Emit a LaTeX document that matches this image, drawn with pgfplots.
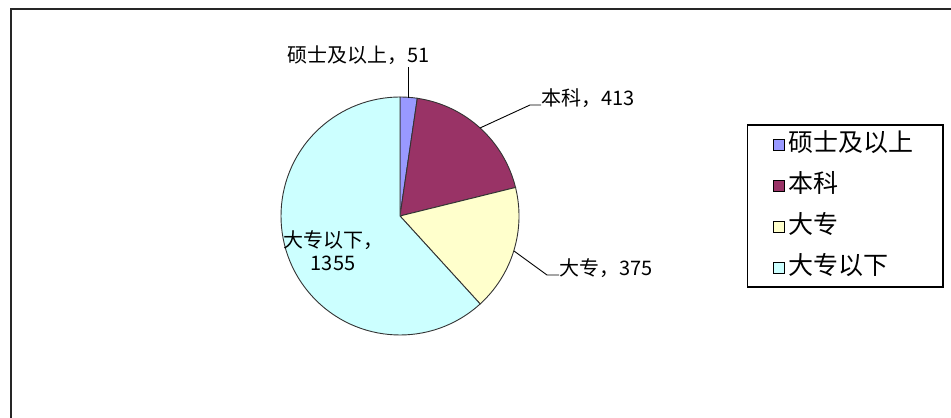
\documentclass[border=0pt]{standalone}
\usepackage{pgfplots}
\usepackage{pgfplotstable}
\pgfplotsset{compat=1.18}
\usepackage{fontspec}
\newfontfamily\cjk{Noto Sans CJK SC}
\definecolor{cMaster}{HTML}{9999FF}
\definecolor{cBachelor}{HTML}{993366}
\definecolor{cCollege}{HTML}{FFFFCC}
\definecolor{cBelow}{HTML}{CCFFFF}

\pgfplotstableread{
value
51
413
375
1355
}\pietable

\begin{document}
\begin{tikzpicture}
\pgfplotstablegetelem{0}{value}\of\pietable \pgfmathsetmacro\va{\pgfplotsretval}
\pgfplotstablegetelem{1}{value}\of\pietable \pgfmathsetmacro\vb{\pgfplotsretval}
\pgfplotstablegetelem{2}{value}\of\pietable \pgfmathsetmacro\vc{\pgfplotsretval}
\pgfplotstablegetelem{3}{value}\of\pietable \pgfmathsetmacro\vd{\pgfplotsretval}
\pgfmathsetmacro\tot{\va+\vb+\vc+\vd}
\pgfmathsetmacro\aA{90}
\pgfmathsetmacro\aB{\aA-(\va/\tot)*360}
\pgfmathsetmacro\aC{\aB-(\vb/\tot)*360}
\pgfmathsetmacro\aD{\aC-(\vc/\tot)*360}
\pgfmathsetmacro\aE{\aD-(\vd/\tot)*360}
\begin{axis}[
  scale only axis, width=951bp, height=418bp,
  xmin=0, xmax=951, ymin=0, ymax=418,
  hide axis, clip=false,
  legend image code/.code={\draw[#1, line width=0.9bp] (0bp,-5.5bp) rectangle (11bp,5.5bp);},
  legend cell align=left,
  legend style={at={(axis cs:773,212)}, anchor=west,
    draw=none, fill=none, inner sep=0pt,
    font=\cjk\fontsize{25bp}{29bp}\selectfont,
    row sep=14bp, column sep=3bp,
    nodes={inner sep=0pt, text height=21bp, text depth=6bp}},
]
\addlegendimage{fill=cMaster, draw=black}
\addlegendentry{硕士及以上}
\addlegendimage{fill=cBachelor, draw=black}
\addlegendentry{本科}
\addlegendimage{fill=cCollege, draw=black}
\addlegendentry{大专}
\addlegendimage{fill=cBelow, draw=black}
\addlegendentry{大专以下}

% chart area border
\draw[black!85, line width=2bp] (axis cs:10.5,0) -- (axis cs:10.5,408.5) -- (axis cs:951,408.5);
% legend frame
\draw[black, line width=1.2bp] (axis cs:747.5,131) rectangle (axis cs:943,293);

% pie slices
\filldraw[fill=cMaster, draw=black!80, line width=0.9bp] (axis cs:400,202) -- ++(\aA:119bp) arc[start angle=\aA, end angle=\aB, radius=119bp] -- cycle;
\filldraw[fill=cBachelor, draw=black!80, line width=0.9bp] (axis cs:400,202) -- ++(\aB:119bp) arc[start angle=\aB, end angle=\aC, radius=119bp] -- cycle;
\filldraw[fill=cCollege, draw=black!80, line width=0.9bp] (axis cs:400,202) -- ++(\aC:119bp) arc[start angle=\aC, end angle=\aD, radius=119bp] -- cycle;
\filldraw[fill=cBelow, draw=black!80, line width=0.9bp] (axis cs:400,202) -- ++(\aD:119bp) arc[start angle=\aD, end angle=\aE, radius=119bp] -- cycle;

% leader lines
\draw[black, line width=0.9bp] (axis cs:408.5,320) -- (axis cs:408.5,351);
\draw[black, line width=0.9bp] (axis cs:480,290) -- (axis cs:530,313) -- (axis cs:541,313);
\draw[black, line width=0.9bp] (axis cs:514,167) -- (axis cs:547,143) -- (axis cs:559,143);

% data labels
\node[anchor=west, inner sep=0pt, font=\cjk\fontsize{20bp}{23bp}\selectfont] at (axis cs:287,363) {硕士及以上，51};
\node[anchor=west, inner sep=0pt, font=\cjk\fontsize{20bp}{23bp}\selectfont] at (axis cs:541,320) {本科，413};
\node[anchor=west, inner sep=0pt, font=\cjk\fontsize{20bp}{23bp}\selectfont] at (axis cs:559,150) {大专，375};
\node[align=center, inner sep=0pt, font=\cjk\fontsize{20bp}{23bp}\selectfont] at (axis cs:333,167) {大专以下，\\1355};
\end{axis}
\pgfresetboundingbox
\path[use as bounding box] (0,0) rectangle (951bp,418bp);
\end{tikzpicture}
\end{document}
